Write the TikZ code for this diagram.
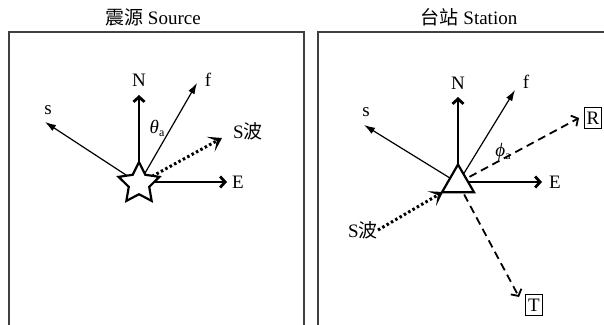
\documentclass[tikz,border=0pt]{standalone}
\usepackage{fontspec}
\setmainfont{Liberation Serif}
\newfontfamily\cjk{Noto Sans CJK SC}
\usetikzlibrary{arrows.meta,shapes.geometric}
\newcommand\subA{{\fontsize{12}{13}\selectfont\raisebox{-3pt}{a}}}
\begin{document}
\begin{tikzpicture}[x=1pt,y=-1pt,
  lbl/.style={inner sep=0pt,font=\fontsize{19}{22}\selectfont},
  frame/.style={draw=black!75,line width=1.3pt},
  thickarr/.style={line width=2.8pt,-{Straight Barb[length=5pt,width=11pt,line width=2.8pt]}},
  thinarr/.style={line width=1.2pt,-{Latex[length=11pt,width=7pt]}},
  dasharr/.style={line width=1.8pt,dash pattern=on 8pt off 5pt,-{Straight Barb[length=5pt,width=12pt,line width=1.8pt]}},
  swave/.style={line width=3pt,dash pattern=on 2.5pt off 2.5pt,-{Stealth[length=13pt,width=17pt,inset=7pt]}},
  boxlbl/.style={draw,line width=1.1pt,inner xsep=2.5pt,inner ysep=4pt,font=\fontsize{19}{22}\selectfont}]
\useasboundingbox (0,0) rectangle (604,324);
% frames
\draw[frame] (9,330) -- (9,32) -- (304,32) -- (304,330);
\draw[frame] (318,330) -- (318,32) -- (610,32);
\node[lbl] (t1) at (153,17) {{\cjk 震源} Source};
\node[lbl] (t2) at (469,17) {{\cjk 台站} Station};
% ---------- Source ----------
\coordinate (c1) at (139,183.5);
\coordinate (n1) at (139,95);
\coordinate (e1) at (227,182);
\coordinate (c1e) at (150,182);
\coordinate (f1) at (197,83);
\coordinate (s1) at (45,122);
\coordinate (w1) at (222,138);
\node[lbl] (N1) at (139,80) {N};
\node[lbl] (E1) at (238,182) {E};
\node[lbl] (F1) at (208,80) {f};
\node[lbl] (S1) at (48,110) {s};
\node[lbl] (W1) at (248,131) {S{\cjk 波}};
\node[lbl] (th) at (157,128) {\textit{θ}\subA};
\draw[thickarr] (c1) -- (n1);
\draw[thickarr] (c1e) -- (e1);
\draw[thinarr] (c1) -- (f1);
\draw[thinarr] (c1) -- (s1);
\draw[swave] (c1) -- (w1);
\node[star,star points=5,star point ratio=2.0,minimum size=43pt,inner sep=0pt,draw,fill=white,line width=2.2pt] (star) at (c1) {};
% ---------- Station ----------
\coordinate (c2) at (458,183);
\coordinate (n2) at (458,97);
\coordinate (e2) at (542,182);
\coordinate (c2e) at (462,182);
\coordinate (f2) at (515,90);
\coordinate (s2) at (364,125);
\coordinate (r2) at (579,118);
\coordinate (tt2) at (519,297);
\coordinate (w2) at (443,192);
\node[lbl] (N2) at (458,83) {N};
\node[lbl] (E2) at (555,182) {E};
\node[lbl] (F2) at (526,82) {f};
\node[lbl] (S2) at (366,112) {s};
\node[lbl] (ph) at (503,152) {\textit{ϕ}\subA};
\node[lbl,anchor=east] (W2) at (378,230) {S{\cjk 波}};
\node[boxlbl] (R) at (593,118) {R};
\node[boxlbl] (T) at (534,305) {T};
\draw[thickarr] (c2) -- (n2);
\draw[thickarr] (c2e) -- (e2);
\draw[thinarr] (c2) -- (f2);
\draw[thinarr] (c2) -- (s2);
\draw[dasharr] (c2) -- (r2);
\draw[dasharr] (c2) -- (tt2);
\draw[swave] (W2.east) -- (w2);
\node[regular polygon,regular polygon sides=3,minimum size=37pt,inner sep=0pt,draw,fill=white,line width=2.2pt] (tri) at (c2) {};
\end{tikzpicture}
\end{document}
